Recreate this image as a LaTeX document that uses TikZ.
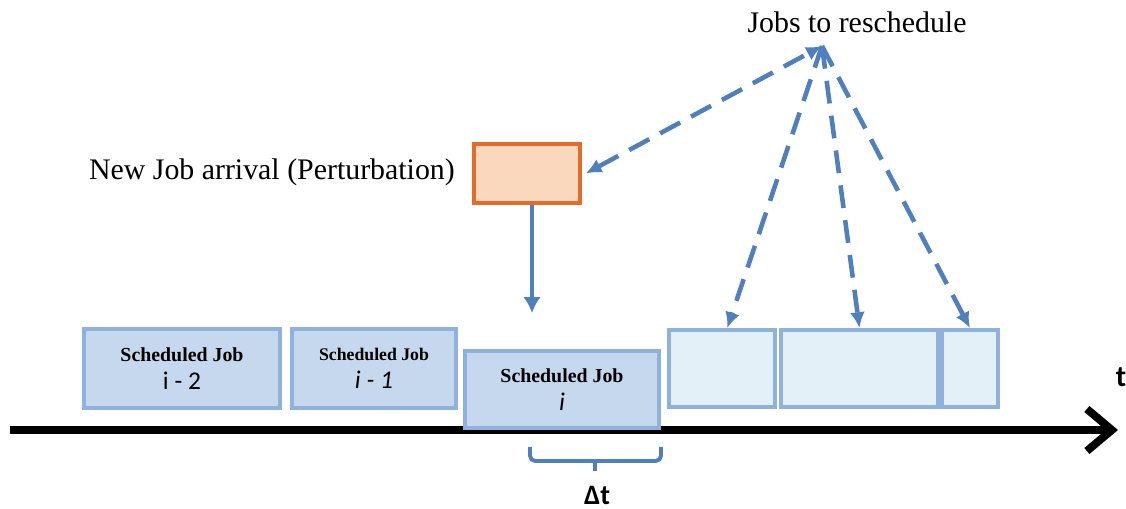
\documentclass[tikz,border=0pt]{standalone}
\usepackage{fontspec}
\setmainfont{Liberation Serif}
\setsansfont{Carlito}
\usetikzlibrary{arrows, arrows.meta}
\definecolor{jobfill}{HTML}{C5D8ED}
\definecolor{jobline}{HTML}{8FB1DD}
\definecolor{todofill}{HTML}{E3F0F8}
\definecolor{newfill}{HTML}{F9D8BD}
\definecolor{newline}{HTML}{E46C2A}
\definecolor{linkblue}{HTML}{4F7FBD}
\tikzset{job/.style = {shape = rectangle, draw = jobline, fill = jobfill, line width = 2.2pt, align = center, inner sep = 0pt}}
\tikzset{todo/.style = {job, fill = todofill}}
\tikzset{newjob/.style = {shape = rectangle, draw = newline, fill = newfill, line width = 2.5pt, minimum width = 2.12cm, minimum height = 1.18cm}}
\tikzset{link/.style = {draw = linkblue, line width = 2.2pt, -{Latex[length = 9pt, width = 10pt]}}}
\tikzset{resched/.style = {draw = linkblue, line width = 2.6pt, dash pattern = on 13pt off 7pt, -{Latex[length = 9pt, width = 8.5pt]}}}
\tikzset{axis/.style = {line width = 4.5pt, -{Straight Barb[length = 0.5cm, width = 0.84cm]}}}
\tikzset{brace/.style = {draw = linkblue, line width = 2.2pt, rounded corners = 3pt}}
\newcommand{\jobtitle}[1]{{\fontsize{#1}{14}\selectfont\bfseries Scheduled Job}}
\newcommand{\jobindex}[1]{{\sffamily\fontsize{14.5}{16}\selectfont #1}}

\begin{document}
\begin{tikzpicture}[x = 0.02cm, y = -0.02cm]
	\useasboundingbox (0, 0) rectangle (1126, 509);

	\coordinate (t0) at (10, 430);
	\coordinate (t1) at (1118, 430);
	\draw[axis] (t0) -- (t1);
	\node[font = \sffamily\bfseries\fontsize{17}{20}\selectfont] (tlab) at (1121, 377) {t};

	\node[job, minimum width = 3.92cm, minimum height = 1.58cm] (j2) at (182, 368.5) {\jobtitle{11.3}\\[4pt] \jobindex{i - 2}};
	\node[job, minimum width = 3.28cm, minimum height = 1.58cm] (j1) at (374, 368.5) {\jobtitle{10.1}\\[4pt] \jobindex{\itshape i - 1}};
	\node[job, minimum width = 3.88cm, minimum height = 1.54cm] (ji) at (562, 389.5) {\jobtitle{11.3}\\[4pt] \jobindex{\itshape i}};

	\node[todo, minimum width = 2.12cm, minimum height = 1.54cm] (r1) at (722, 368.5) {};
	\node[todo, minimum width = 3.14cm, minimum height = 1.54cm] (r2) at (859.5, 368.5) {};
	\node[todo, minimum width = 1.12cm, minimum height = 1.54cm] (r3) at (970, 368.5) {};

	\node[newjob] (new) at (527, 173.5) {};
	\node[anchor = east, font = \fontsize{17}{20}\selectfont] (newlab) at (461, 172) {New Job arrival (Perturbation)};
	\node[font = \fontsize{17}{20}\selectfont] (reslab) at (857, 22) {Jobs to reschedule};

	\coordinate (apex) at (822, 46);
	\coordinate (drop) at (532, 313);

	\draw[link] (new.south -| drop) -- (drop);
	\draw[resched, {Latex[length = 9pt, width = 8.5pt]}-{Latex[length = 9pt, width = 8.5pt]}] ([xshift = 2pt]new.east) -- (apex);
	\draw[resched] (apex) -- ([xshift = 3pt]r1.north);
	\draw[resched] (apex) -- (r2.north);
	\draw[resched] (apex) -- (r3.north);

	\draw[brace] (530, 447) |- (661, 461) -- (661, 447);
	\draw[brace] (595, 461) -- (595, 471);
	\node[font = \sffamily\bfseries\fontsize{16}{19}\selectfont] (dlab) at (597, 495) {Δt};
\end{tikzpicture}
\end{document}
